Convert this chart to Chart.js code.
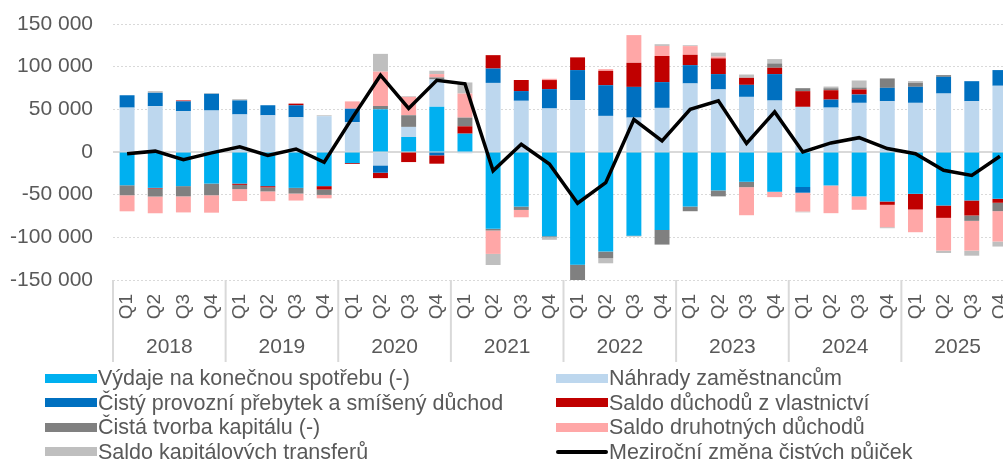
<!DOCTYPE html>
<html lang="cs">
<head>
  <meta charset="UTF-8">
  <title>Meziroční změna čistých půjček</title>
  <script src="https://cdn.jsdelivr.net/npm/chart.js"></script>
  <style>
    html, body {
      margin: 0;
      padding: 0;
      background: #fff;
      overflow: hidden;
    }
    body {
      width: 1003px;
      height: 459px;
      position: relative;
      font-family: 'Liberation Sans', Arial, sans-serif;
    }
    /* plot runs past the right edge, like the cropped original */
    .chart-box {
      position: absolute;
      left: 0;
      top: 0;
      width: 1016px;
      height: 370px;
    }
    #legend {
      position: absolute;
      left: 45px;
      top: 366px;
      display: grid;
      grid-template-columns: 511px 450px;
      color: #595959;
      font-size: 21.5px;
      line-height: 24.5px;
      white-space: nowrap;
    }
    #legend .item { display: flex; align-items: center; }
    #legend .swatch { width: 52px; height: 9px; margin-right: 1px; flex: none; }
    #legend .swatch.line { height: 4px; border-radius: 2px; }
  </style>
</head>
<body>
  <div class="chart-box">
    <canvas id="chart" width="1016" height="370"></canvas>
  </div>
  <div id="legend"></div>

  <script>
    // categories
    const years = ['2018', '2019', '2020', '2021', '2022', '2023', '2024', '2025'];
    const quarters = ['Q1', 'Q2', 'Q3', 'Q4'];
    const labels = years.flatMap(() => quarters);

    // y axis ticks
    const yMin = -150000;
    const yMax = 150000;
    const yStep = 50000;

    // series (mil. Kč), 2018 Q1 .. 2025 Q4
    const spotreba = [
      -39000, -42000, -40000, -37000,
      -37000, -40000, -42000, -40000,
      -13000, 50000, 17600, 53000,
      21500, -90000, -64000, -98700,
      -132000, -116700, -98000, -91300,
      -63900, -45000, -34900, -46600,
      -41000, -39200, -52000, -58000,
      -49000, -62700, -56800, -54800
    ];
    const nahrady = [
      52000, 53700, 48000, 48600,
      44000, 43000, 40700, 42000,
      35000, -15700, 11800, 32000,
      -1500, 81000, 60000, 51000,
      60700, 42300, 40300, 51700,
      80300, 73300, 64600, 60300,
      52900, 52000, 57600, 59500,
      57600, 68500, 59500, 77600
    ];
    const provozni = [
      14500, 15700, 11400, 19600,
      16500, 11800, 14000, 0,
      15700, -8600, 0, -3900,
      0, 16800, 11400, 22700,
      35300, 36000, 36000, 30200,
      21500, 18000, 14100, 31000,
      -6700, 9400, 9800, 15700,
      18800, 19600, 23500, 18400
    ];
    const vlastnictvi = [
      0, -800, 1000, 0,
      -1500, -1500, 2000, -4000,
      -1000, -6300, -11800, -9800,
      8600, 15700, 13000, 10600,
      14900, 16800, 28200, 30600,
      12100, 18400, 8200, 7400,
      18400, 11000, 5900, -3900,
      -18400, -14500, -17600, -4700
    ];
    const kapital = [
      -11700, -9400, -12000, -13700,
      -5000, -4700, -6700, -6300,
      0, 3900, 13700, 2400,
      10200, -2000, -3900, -1200,
      -18400, -7800, -800, -17200,
      -5500, -7000, -6300, 5100,
      3500, 2300, 2300, 11000,
      4700, 2000, -6300, -9800
    ];
    const druhotne = [
      -18800, -19600, -18800, -20400,
      -14000, -11400, -8200, -4000,
      8600, 40300, 21500, 3900,
      28200, -27400, -8600, 1500,
      -1200, 2000, 32500, 11800,
      10200, 2000, -32900, -6300,
      -22000, -32500, -15700, -26200,
      -26600, -38400, -34900, -35600
    ];
    const transfery = [
      0, 2000, 0, 800,
      1500, 0, 0, 1000,
      0, 20800, 800, 3900,
      13000, -13000, 0, -3000,
      0, -5900, 0, 2000,
      1000, 4700, 3900, 5100,
      -1000, 2000, 8200, -1200,
      2000, -2700, -5900, -5900
    ];
    const zmenaPujcek = [
      -2000, 1000, -9000, -1000,
      6000, -4000, 3500, -12000,
      40000, 90000, 51000, 84000,
      80000, -22000, 9000, -14000,
      -60000, -36000, 38000, 13000,
      50000, 60000, 10000, 47000,
      0, 10600, 16800, 4000,
      -2000, -21500, -27400, -5000
    ];

    const textColor = '#595959';
    const gridColor = '#D9D9D9';
    const fontFamily = "'Liberation Sans', Arial, sans-serif";

    function formatNumber(v) {
      const s = String(Math.abs(v)).replace(/\B(?=(\d{3})+(?!\d))/g, ' ');
      return (v < 0 ? '-' : '') + s;
    }

    function bar(label, data, color) {
      return {
        type: 'bar',
        label: label,
        data: data,
        backgroundColor: color,
        borderWidth: 0,
        stack: 'slozky',
        barPercentage: 0.53,
        categoryPercentage: 1
      };
    }

    // zero line under the bars
    const zeroLine = {
      id: 'zeroLine',
      beforeDatasetsDraw(chart) {
        const { ctx, chartArea, scales } = chart;
        const y = scales.y.getPixelForValue(0);
        ctx.save();
        ctx.strokeStyle = gridColor;
        ctx.lineWidth = 2;
        ctx.beginPath();
        ctx.moveTo(chartArea.left, y);
        ctx.lineTo(chartArea.right, y);
        ctx.stroke();
        ctx.restore();
      }
    };

    // second level of the category axis: years and separators
    const yearAxis = {
      id: 'yearAxis',
      afterDraw(chart) {
        const { ctx, chartArea, scales } = chart;
        const x = scales.x;
        const half = (x.getPixelForValue(1) - x.getPixelForValue(0)) / 2;
        ctx.save();
        ctx.strokeStyle = gridColor;
        ctx.lineWidth = 2;
        years.forEach((year, i) => {
          const sep = x.getPixelForValue(i * 4) - half;
          ctx.beginPath();
          ctx.moveTo(sep, chartArea.bottom);
          ctx.lineTo(sep, chartArea.bottom + 82);
          ctx.stroke();
        });
        ctx.fillStyle = textColor;
        ctx.font = '21px ' + fontFamily;
        ctx.textAlign = 'center';
        ctx.textBaseline = 'middle';
        years.forEach((year, i) => {
          const cx = (x.getPixelForValue(i * 4 + 1) + x.getPixelForValue(i * 4 + 2)) / 2;
          ctx.fillText(year, cx, chartArea.bottom + 67);
        });
        ctx.restore();
      }
    };

    // legend in two columns, as html
    const htmlLegend = {
      id: 'htmlLegend',
      afterUpdate(chart) {
        const box = document.getElementById('legend');
        box.innerHTML = '';
        chart.data.datasets.forEach(ds => {
          const item = document.createElement('div');
          item.className = 'item';
          const sw = document.createElement('span');
          sw.className = 'swatch' + (ds.type === 'line' ? ' line' : '');
          sw.style.background = ds.type === 'line' ? ds.borderColor : ds.backgroundColor;
          const txt = document.createElement('span');
          txt.textContent = ds.label;
          item.appendChild(sw);
          item.appendChild(txt);
          box.appendChild(item);
        });
      }
    };

    new Chart(document.getElementById('chart'), {
      data: {
        labels: labels,
        datasets: [
          bar('Výdaje na konečnou spotřebu (-)', spotreba, '#00B0F0'),
          bar('Náhrady zaměstnancům', nahrady, '#BDD7EE'),
          bar('Čistý provozní přebytek a smíšený důchod', provozni, '#0070C0'),
          bar('Saldo důchodů z vlastnictví', vlastnictvi, '#C00000'),
          bar('Čistá tvorba kapitálu (-)', kapital, '#808080'),
          bar('Saldo druhotných důchodů', druhotne, '#FFA7A7'),
          bar('Saldo kapitálových transferů', transfery, '#BFBFBF'),
          {
            type: 'line',
            label: 'Meziroční změna čistých půjček',
            data: zmenaPujcek,
            borderColor: '#000000',
            backgroundColor: '#000000',
            borderWidth: 3.5,
            pointRadius: 0,
            tension: 0,
            stack: 'linka',
            order: -1
          }
        ]
      },
      options: {
        responsive: false,
        animation: false,
        layout: { padding: { top: 24, right: 2, bottom: 5, left: 0 } },
        plugins: {
          legend: { display: false },
          tooltip: { enabled: false }
        },
        scales: {
          x: {
            stacked: true,
            grid: { display: false, drawTicks: false },
            border: { display: false },
            ticks: {
              autoSkip: false,
              minRotation: 90,
              maxRotation: 90,
              padding: 14,
              color: textColor,
              font: { family: fontFamily, size: 19 }
            },
            afterFit(scale) {
              scale.height = 85;
              scale.paddingLeft = 0;
              scale.paddingRight = 0;
            }
          },
          y: {
            stacked: true,
            min: yMin,
            max: yMax,
            grid: { color: gridColor, lineWidth: 1, drawTicks: false },
            border: { display: false, dash: [2, 2] },
            ticks: {
              stepSize: yStep,
              padding: 20,
              color: textColor,
              font: { family: fontFamily, size: 21 },
              callback: v => formatNumber(v)
            },
            afterFit(scale) {
              scale.width = 113;
              scale.paddingTop = 0;
              scale.paddingBottom = 0;
            }
          }
        }
      },
      plugins: [zeroLine, yearAxis, htmlLegend]
    });
  </script>
</body>
</html>
